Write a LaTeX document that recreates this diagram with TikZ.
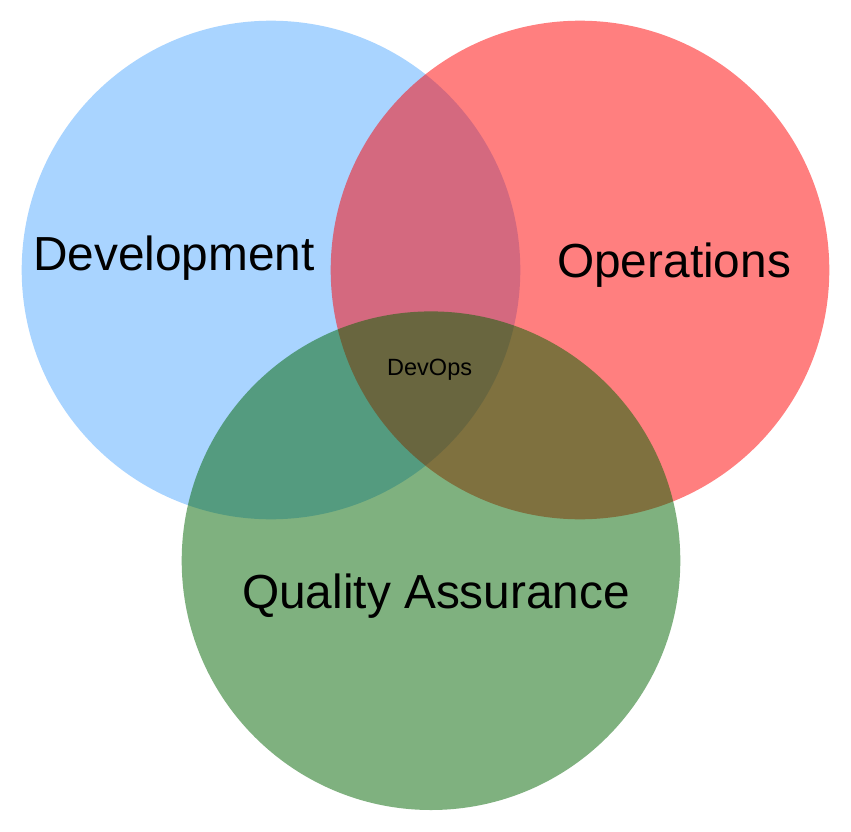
\documentclass[tikz,border=0pt]{standalone}
\usepackage{fontspec}
\setmainfont{Liberation Sans}
\begin{document}
\begin{tikzpicture}[x=1pt,y=-1pt,
  set/.style={circle,minimum size=498.6pt,inner sep=0pt,fill opacity=0.5,draw=none},
  biglabel/.style={font=\fontsize{47.8}{56}\selectfont,inner sep=0pt,anchor=base west},
  smalllabel/.style={font=\fontsize{23.5}{28}\selectfont,inner sep=0pt,anchor=base west}]
\definecolor{devblue}{RGB}{85,171,255}
\definecolor{opsred}{RGB}{255,0,0}
\definecolor{qagreen}{RGB}{0,100,0}
\useasboundingbox (0,0) rectangle (851,832);
\fill[white] (0,0) rectangle (851,832);
% the three overlapping sets
\node[set,fill=devblue] (dev) at (271,270) {};
\node[set,fill=opsred] (ops) at (580,270) {};
\node[set,fill=qagreen] (qa) at (431,560.7) {};
% set labels
\node[biglabel] (devlbl) at (33,270) {Development};
\node[biglabel] (opslbl) at (557,277) {Operations};
\node[biglabel] (qalbl) at (242,608) {Quality Assurance};
\node[smalllabel] (core) at (387,375) {DevOps};
\end{tikzpicture}
\end{document}
